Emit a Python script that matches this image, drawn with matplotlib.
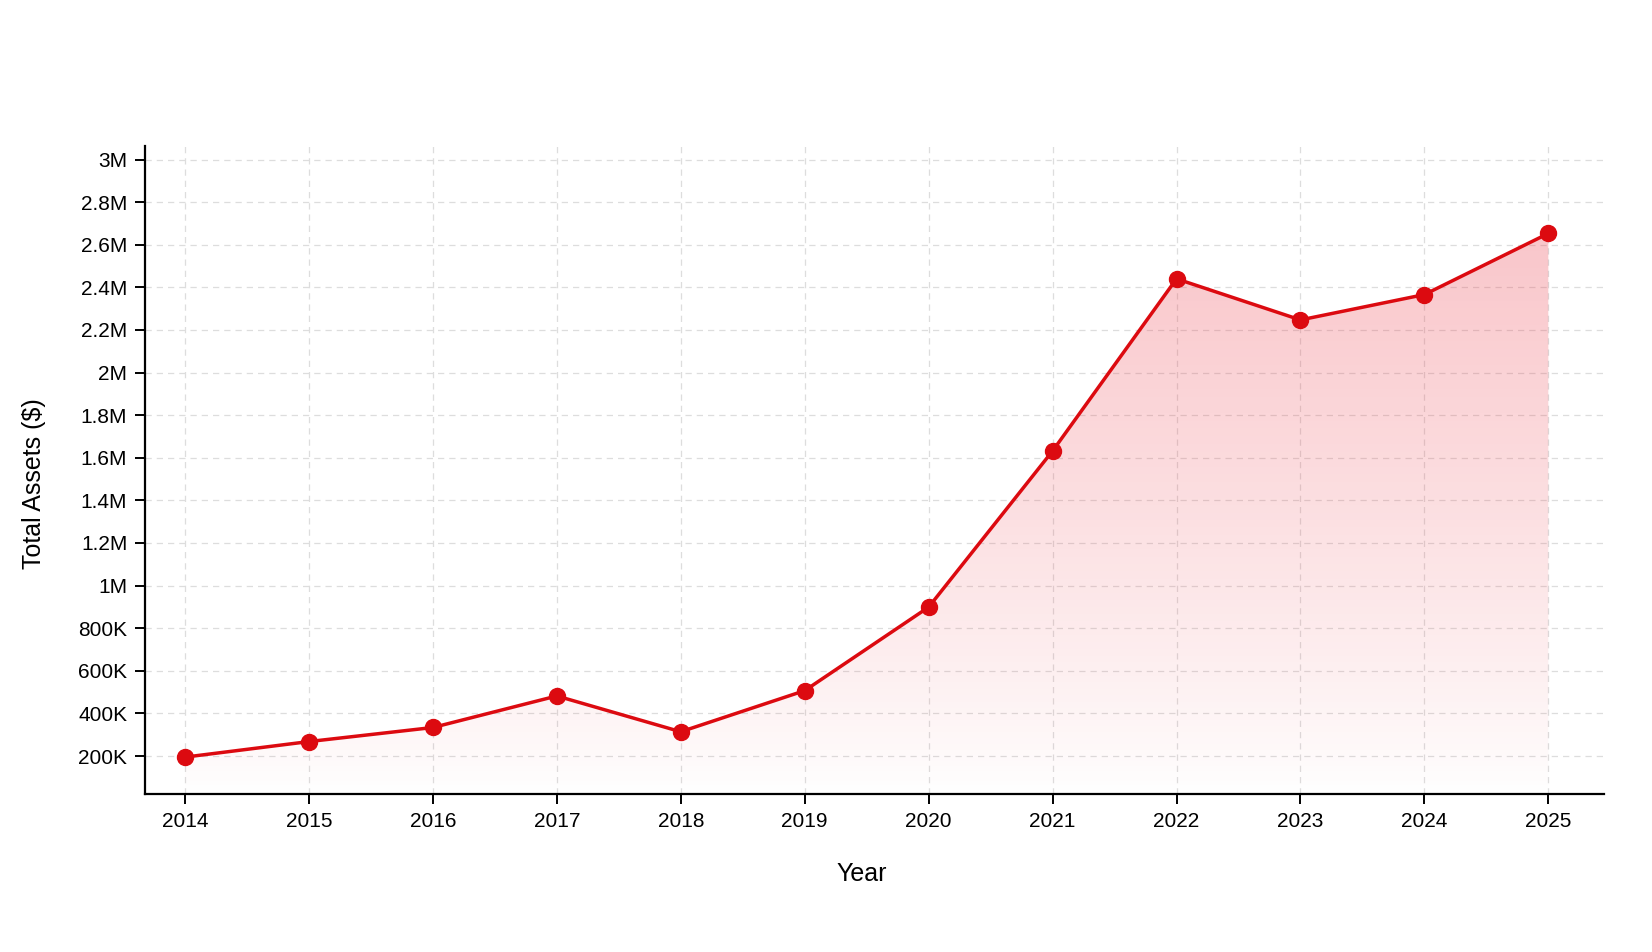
import numpy as np
import matplotlib.pyplot as plt
from matplotlib.ticker import FuncFormatter
from matplotlib.colors import LinearSegmentedColormap

years = [2014, 2015, 2016, 2017, 2018, 2019, 2020, 2021, 2022, 2023, 2024, 2025]
assets = [195000, 268000, 334000, 482000, 314000, 507000, 899000,
          1632000, 2440000, 2247000, 2366000, 2653000]
y_ticks = [200000, 400000, 600000, 800000, 1000000, 1200000, 1400000, 1600000,
           1800000, 2000000, 2200000, 2400000, 2600000, 2800000, 3000000]

RED = '#dc0a10'

plt.rcParams['font.family'] = ['Liberation Sans', 'DejaVu Sans']


def fmt_money(v, pos):
  # 200K, 1M, 1.2M style labels
  if v >= 1e6:
    s = '%.1f' % (v / 1e6)
    return s.rstrip('0').rstrip('.') + 'M'
  return '%dK' % round(v / 1e3)


fig = plt.figure(figsize=(16.52, 9.52), dpi=100)
ax = fig.add_axes([0.088, 0.166, 0.883, 0.681])

ymin, ymax = 22000, 3065000
xmin, xmax = 2013.68, 2025.45

# gradient under the line, clipped to the area polygon
fill = ax.fill_between(years, assets, ymin, color='none', zorder=1)
t = np.linspace(0, 1, 256)
colors = [(0.93, 0.28, 0.33, 0.31 * v ** 0.85) for v in t]
cmap = LinearSegmentedColormap.from_list('fade', colors)
grad = t.reshape(-1, 1)
img = ax.imshow(grad, cmap=cmap, aspect='auto', origin='lower',
                extent=[years[0], years[-1], ymin, max(assets)], zorder=1)
img.set_clip_path(fill.get_paths()[0], transform=ax.transData)

ax.plot(years, assets, color=RED, lw=2.5, marker='o', markersize=11.5, zorder=3)

ax.set_xlim(xmin, xmax)
ax.set_ylim(ymin, ymax)
ax.set_xticks(years)
ax.set_yticks(y_ticks)
ax.yaxis.set_major_formatter(FuncFormatter(fmt_money))

ax.grid(True, color='#dddddd', linestyle=(0, (5, 4)), linewidth=0.9, zorder=0)
ax.set_axisbelow(True)
for side in ['top', 'right']:
  ax.spines[side].set_visible(False)
for side in ['left', 'bottom']:
  ax.spines[side].set_linewidth(1.6)
ax.tick_params(axis='both', labelsize=15, width=1.4, length=7, direction='out', pad=6)

ax.set_xlabel('Year', fontsize=18)
ax.set_ylabel('Total Assets ($)', fontsize=18)
ax.xaxis.set_label_coords(0.491, -0.105)
ax.yaxis.set_label_coords(-0.068, 0.479)

plt.savefig('out.png', dpi=100)
plt.close()
